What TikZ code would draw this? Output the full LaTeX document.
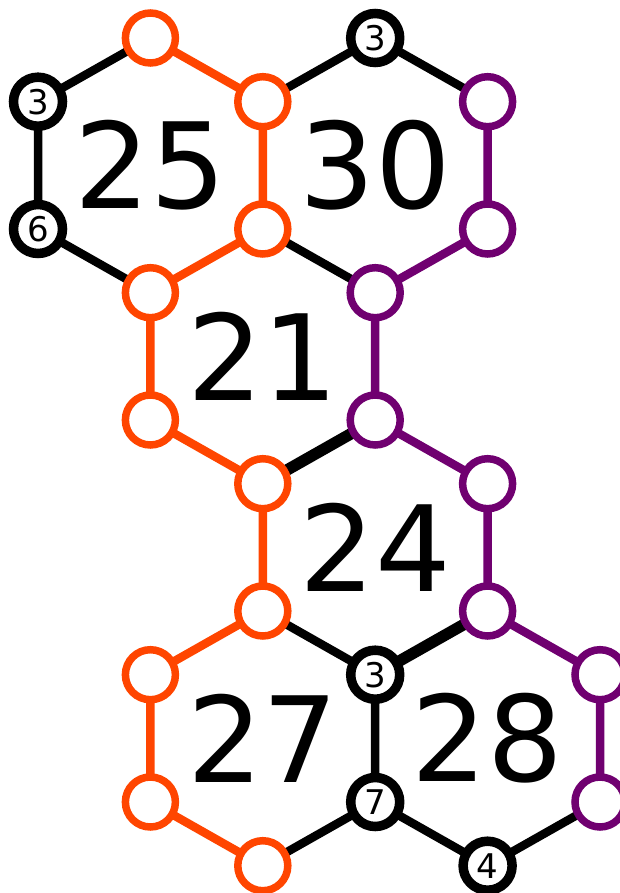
\documentclass[tikz,border=0pt]{standalone}
\usepackage{fontspec}
\setmainfont{DejaVu Sans}
\usetikzlibrary{backgrounds}
\definecolor{hexorange}{RGB}{255,69,0}
\definecolor{hexpurple}{RGB}{112,0,112}
\begin{document}
\begin{tikzpicture}[x=1pt,y=-1pt,
  vtx/.style={circle, fill=white, minimum size=50pt, inner sep=0pt, line width=7.5pt},
  ov/.style={vtx, draw=hexorange},
  pv/.style={vtx, draw=hexpurple},
  bv/.style={vtx, draw=black, line width=9.5pt, minimum size=49pt, font=\fontsize{34}{34}\selectfont},
  edgeline/.style={line width=8.5pt},
  oe/.style={edgeline, draw=hexorange},
  pe/.style={edgeline, draw=hexpurple},
  be/.style={edgeline, draw=black},
  bthick/.style={line width=11.5pt, draw=black},
  hexlabel/.style={inner sep=0pt, font=\fontsize{119}{119}\selectfont}
]
\useasboundingbox (0,0) rectangle (620,893);
% columns / rows
\def\cA{38}\def\cB{150.4}\def\cC{262.8}\def\cD{375.2}\def\cE{487.6}\def\cF{600}
\def\rA{38}\def\rB{101.7}\def\rC{229}\def\rD{292.7}\def\rE{420}
\def\rF{483.7}\def\rG{611}\def\rH{674.7}\def\rI{802}\def\rJ{865.7}
% vertices
\node[ov] (a) at (\cB,\rA) {};
\node[bv] (b) at (\cD,\rA) {3};
\node[bv] (c) at (\cA,\rB) {3};
\node[ov] (d) at (\cC,\rB) {};
\node[pv] (e) at (\cE,\rB) {};
\node[bv] (f) at (\cA,\rC) {6};
\node[ov] (g) at (\cC,\rC) {};
\node[pv] (h) at (\cE,\rC) {};
\node[ov] (i) at (\cB,\rD) {};
\node[pv] (j) at (\cD,\rD) {};
\node[ov] (k) at (\cB,\rE) {};
\node[pv] (l) at (\cD,\rE) {};
\node[ov] (m) at (\cC,\rF) {};
\node[pv] (n) at (\cE,\rF) {};
\node[ov] (o) at (\cC,\rG) {};
\node[pv] (p) at (\cE,\rG) {};
\node[ov] (q) at (\cB,\rH) {};
\node[bv] (r) at (\cD,\rH) {3};
\node[pv] (s) at (\cF,\rH) {};
\node[ov] (t) at (\cB,\rI) {};
\node[bv] (u) at (\cD,\rI) {7};
\node[pv] (v) at (\cF,\rI) {};
\node[ov] (w) at (\cC,\rJ) {};
\node[bv] (x) at (\cE,\rJ) {4};
% hexagon labels
\node[hexlabel] (h25) at (\cB,165.3) {25};
\node[hexlabel] (h30) at (\cD,165.3) {30};
\node[hexlabel] (h21) at (\cC,356.3) {21};
\node[hexlabel] (h24) at (\cD,547.3) {24};
\node[hexlabel] (h27) at (\cC,738.3) {27};
\node[hexlabel] (h28) at (\cE,738.3) {28};
% edges
\begin{scope}[on background layer]
\draw[oe] (a.center) -- (d.center) -- (g.center) -- (i.center) -- (k.center) -- (m.center) -- (o.center) -- (q.center) -- (t.center) -- (w.center);
\draw[pe] (e.center) -- (h.center) -- (j.center) -- (l.center) -- (n.center) -- (p.center) -- (s.center) -- (v.center);
\draw[be] (a.center) -- (c.center) -- (f.center) -- (i.center);
\draw[be] (d.center) -- (b.center) -- (e.center);
\draw[be] (g.center) -- (j.center);
\draw[be] (o.center) -- (r.center) -- (u.center) -- (w.center);
\draw[be] (u.center) -- (x.center) -- (v.center);
\draw[bthick] (l.center) -- (m.center);
\draw[bthick] (p.center) -- (r.center);
\end{scope}
\end{tikzpicture}
\end{document}
